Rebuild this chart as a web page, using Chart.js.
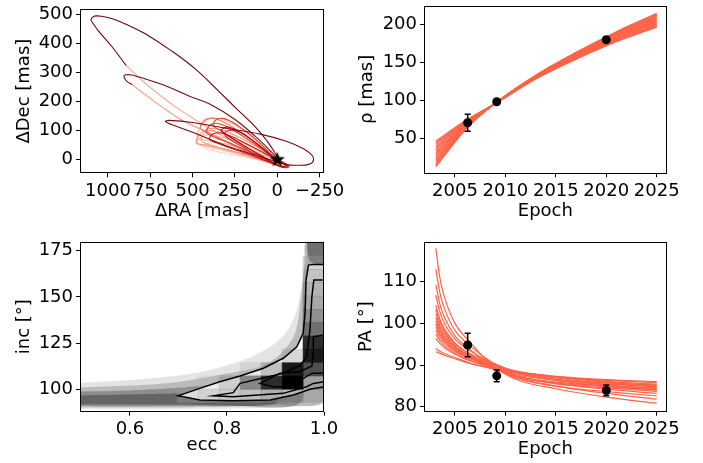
<!DOCTYPE html>
<html>
<head>
<meta charset="utf-8">
<script src="https://cdn.jsdelivr.net/npm/chart.js@4.4.1/dist/chart.umd.min.js"></script>
<style>
  body { margin: 0; background: #fff; width: 703px; height: 463px; overflow: hidden; }
  canvas { position: absolute; }
</style>
</head>
<body>
<canvas id="orbitChart" width="345" height="230" style="left:0;top:0"></canvas>
<canvas id="rhoChart" width="363" height="230" style="left:340px;top:0"></canvas>
<canvas id="eccIncChart" width="345" height="233" style="left:0;top:230px"></canvas>
<canvas id="paChart" width="363" height="233" style="left:340px;top:230px"></canvas>
<script>
// ---- top left: projected orbit tracks, [dRA, dDec] in mas ----
const orbitA_dark = [[893,324],[976,388],[1054,441],[1090,470],[1100,480],[1090,490],[1071,494],[1040,493],[974,484],[880,462],[775,431],[625,374],[476,308],[339,231],[238,174],[131,114],[60,64],[15,25],[-5,5]];
const orbitA_light = [[893,324],[756,251],[607,184],[458,128],[280,68],[131,28],[30,8],[-5,5]];
const orbitB_dark = [[857,258],[887,268],[903,281],[905,288],[893,292],[860,291],[815,284],[679,258],[518,218],[399,191],[250,138],[131,81],[42,31],[0,4]];
const orbitB_light = [[857,258],[774,221],[577,141],[399,91],[220,38],[71,11],[0,1]];
const orbitC = [[304,108],[101,88],[-48,64],[-155,38],[-200,18],[-214,5],[-208,-9],[-180,-17],[-137,-19],[-48,-16],[101,11],[304,48],[500,94],[625,121],[661,131],[640,135],[500,128],[304,108]];
const orbitP1 = [[250,120],[160,85],[80,45],[20,10],[-30,-10],[-50,-20],[-20,-22],[40,-5],[150,25],[280,50],[400,65],[460,72],[475,80],[455,110],[420,135],[380,143],[330,140],[250,120]];
const orbitP2 = [[300,98],[200,70],[100,38],[30,10],[-40,-12],[-60,-22],[-30,-24],[40,-10],[150,12],[300,35],[420,50],[470,55],[480,60],[465,82],[430,100],[380,108],[300,98]];
const orbitP3 = [[280,118],[180,80],[90,40],[20,8],[-45,-12],[-70,-22],[-50,-27],[10,-15],[120,10],[260,50],[380,85],[440,102],[455,110],[440,130],[405,142],[360,140],[280,118]];
const orbitP4 = [[300,115],[200,80],[100,40],[30,10],[-35,-12],[-60,-20],[-40,-25],[20,-12],[120,15],[250,50],[360,75],[410,88],[420,95],[400,118],[360,125],[300,115]];
const orbitP5 = [[330,78],[230,55],[130,28],[40,5],[-20,-10],[-35,-18],[-10,-20],[60,-8],[180,12],[320,32],[430,45],[470,55],[455,75],[410,85],[330,78]];
const orbitP6 = [[260,128],[180,95],[100,55],[30,15],[-30,-10],[-55,-20],[-40,-25],[10,-14],[100,15],[220,55],[320,95],[370,112],[380,120],[360,138],[320,142],[260,128]];
const orbitP7 = [[250,105],[180,80],[100,45],[30,12],[-30,-10],[-50,-20],[-30,-24],[20,-12],[100,15],[200,50],[290,82],[330,100],[300,112],[250,105]];
const orbitP8 = [[250,75],[150,45],[60,18],[0,0],[-50,-15],[-65,-25],[-40,-27],[20,-15],[120,8],[250,35],[360,58],[400,70],[380,88],[330,92],[250,75]];
const orbitP9 = [[250,45],[150,25],[60,8],[0,-5],[-20,-12],[0,-15],[80,-5],[200,10],[330,25],[410,35],[430,40],[410,55],[350,60],[250,45]];
const orbitP10 = [[350,95],[250,72],[150,42],[60,15],[0,-2],[-45,-15],[-55,-24],[-25,-25],[40,-12],[150,8],[280,30],[400,52],[445,62],[450,72],[430,92],[395,100],[350,95]];
const orbitP11 = [[200,90],[130,60],[60,28],[10,5],[-35,-12],[-50,-22],[-25,-24],[30,-10],[110,12],[200,42],[280,70],[310,85],[290,100],[250,100],[200,90]];
const hostStar = [[0, 0]];
const raTicks = [1000, 750, 500, 250, 0, -250];
const decTicks = [0, 100, 200, 300, 400, 500];

// ---- right column: separation and position angle vs epoch ----
const epochTicks = [2005, 2010, 2015, 2020, 2025];
const rhoTicks = [50, 100, 150, 200];
const paTicks = [80, 90, 100, 110];
const rhoEpochs = [2003.1, 2006.2, 2009.2, 2013, 2017, 2021, 2025];
const rhoLines = [
  [13.0, 64.0, 98.5, 133.0, 163.0, 190.0, 214.0],
  [15.4, 64.8, 98.4, 132.7, 162.4, 189.1, 212.7],
  [17.4, 65.4, 98.4, 132.4, 161.8, 188.3, 211.7],
  [19.8, 66.2, 98.3, 132.0, 161.2, 187.4, 210.4],
  [22.2, 67.0, 98.2, 131.7, 160.6, 186.5, 209.1],
  [24.2, 67.6, 98.2, 131.4, 160.0, 185.7, 208.1],
  [26.6, 68.4, 98.1, 131.0, 159.4, 184.8, 206.8],
  [29.0, 69.2, 98.0, 130.7, 158.8, 183.9, 205.5],
  [31.0, 69.8, 98.0, 130.4, 158.2, 183.1, 204.5],
  [33.4, 70.6, 97.9, 130.0, 157.6, 182.2, 203.2],
  [35.8, 71.4, 97.8, 129.7, 157.0, 181.3, 201.9],
  [37.8, 72.0, 97.8, 129.4, 156.4, 180.5, 200.9],
  [40.2, 72.8, 97.7, 129.0, 155.8, 179.6, 199.6],
  [42.6, 73.6, 97.6, 128.7, 155.2, 178.7, 198.3],
  [44.6, 74.2, 97.6, 128.4, 154.6, 177.9, 197.3],
  [47.0, 75.0, 97.5, 128.0, 154.0, 177.0, 196.0]
];
const paEpochs = [2003.1, 2003.5, 2004, 2005, 2006.5, 2008.5, 2011, 2015, 2020, 2025];
const paLines = [
  [93.2, 92.8, 92.3, 91.5, 90.3, 89.3, 88.3, 87.3, 86.5, 86.0],
  [93.9, 93.3, 92.7, 91.8, 90.5, 89.3, 88.1, 87.1, 86.3, 85.8],
  [96.4, 95.2, 94.1, 92.6, 91.0, 89.8, 88.4, 87.2, 86.1, 85.4],
  [97.4, 95.9, 94.6, 92.9, 91.2, 89.2, 87.6, 86.4, 85.7, 85.1],
  [98.4, 96.6, 95.2, 93.3, 91.6, 90.2, 88.6, 87.1, 85.9, 85.2],
  [99.2, 97.2, 95.6, 93.5, 91.5, 89.6, 87.9, 86.5, 85.4, 84.8],
  [99.9, 97.7, 96.0, 93.8, 91.9, 90.4, 88.5, 86.9, 85.6, 84.9],
  [100.6, 98.3, 96.4, 94.1, 91.9, 89.5, 87.4, 85.9, 85.0, 84.4],
  [101.4, 98.8, 96.8, 94.3, 92.3, 90.6, 88.4, 86.6, 85.2, 84.5],
  [102.4, 99.5, 97.4, 94.6, 92.2, 89.7, 87.3, 85.7, 84.8, 84.1],
  [103.4, 100.3, 97.9, 95.0, 92.7, 90.8, 88.3, 86.3, 84.9, 84.0],
  [104.4, 101.0, 98.5, 95.3, 92.6, 89.9, 87.2, 85.5, 84.5, 83.7],
  [106.8, 102.8, 99.8, 96.2, 93.4, 90.6, 87.6, 85.6, 84.2, 83.2],
  [109.3, 104.6, 101.2, 97.0, 93.7, 90.2, 86.9, 84.9, 83.6, 82.6],
  [113.0, 107.4, 103.3, 98.3, 94.6, 90.9, 87.2, 85.0, 83.2, 81.8],
  [118.0, 111.0, 106.0, 100.0, 95.5, 90.3, 86.6, 84.3, 82.3, 80.8]
];
const obsEpochs = [2006.26, 2009.14, 2020.0];
const rhoObs = [70.8, 98.3, 179.5];
const rhoErr = [11.0, 1.2, 3.0];
const paObs = [94.8, 87.4, 83.9];
const paErr = [2.8, 1.4, 1.3];

// ---- bottom left: ecc vs inc posterior ----
const eccTicks = [0.6, 0.8, 1.0];
const incTicks = [100, 125, 150, 175];
const cloudEdge = [[0.497,103.5],[0.6,105],[0.7,107.5],[0.75,109.5],[0.8,113],[0.85,117.5],[0.9,125],[0.93,134],[0.945,144],[0.955,158],[0.961,170],[0.964,180],[1.0,180],[1.0,93.5],[0.95,91],[0.85,89.8],[0.7,89.4],[0.6,89.2],[0.497,89.4]];
const cloudOuter = [[0.497,101],[0.6,102],[0.7,104],[0.8,108.5],[0.87,112.5],[0.91,119],[0.94,130],[0.952,148],[0.96,168],[0.963,180],[1.0,180],[1.0,94.5],[0.9,91.5],[0.7,90.2],[0.497,90.2]];
const cloudMid = [[0.497,98.8],[0.6,99.4],[0.7,100.8],[0.8,104],[0.9,110],[0.95,116],[0.95,92.5],[0.8,91.2],[0.6,90.8],[0.497,91]];
const cloudCore = [[0.497,96.8],[0.6,97.2],[0.7,97.8],[0.8,99.5],[0.9,102],[0.9,92.2],[0.7,91.8],[0.497,91.9]];
const cloudTop = [[0.965,180],[0.967,172],[0.975,168.5],[1.0,168.5],[1.0,180]];
const contourOuter = [[1.0,167.6],[0.978,167.6],[0.968,167.2],[0.963,159.1],[0.961,141.1],[0.957,130.3],[0.944,123.0],[0.916,116.8],[0.875,111.4],[0.827,107.2],[0.785,104.1],[0.744,100.5],[0.699,96.5],[0.744,94.2],[0.812,93.8],[0.889,94.2],[0.937,96.9],[0.971,100.0],[1.0,101.4]];
const contourInner = [[1.0,159.1],[0.979,159.1],[0.975,150.1],[0.971,132.1],[0.964,117.6],[0.951,113.1],[0.916,108.7],[0.827,103.2],[0.813,98.2],[0.772,96.5],[0.813,96.0],[0.916,97.8],[0.964,101.4],[0.978,103.2],[1.0,104.1]];
const contourCore = [[1.0,129.4],[0.978,128.4],[0.978,119.5],[0.975,112.6],[0.950,109.5],[0.909,108.7],[0.868,103.2],[0.895,101.4],[0.930,101.4],[0.975,108.7],[1.0,108.7]];
// histogram cells: [ecc centre, inc centre, density 0..1]
const histCells = [
  [0.9784,96.5,0.44],[0.9784,103.7,0.61],[0.9784,110.9,0.83],[0.9784,118.1,0.95],[0.9784,125.3,0.91],
  [0.9784,132.5,0.75],[0.9784,139.7,0.66],[0.9784,146.9,0.59],[0.9784,154.1,0.54],[0.9784,161.3,0.49],[0.9784,168.5,0.42],
  [0.9352,96.5,0.54],[0.9352,103.7,1.0],[0.9352,110.9,0.95],[0.9352,118.1,0.40],
  [0.8919,96.5,0.56],[0.8919,103.7,0.91],[0.8919,110.9,0.50],
  [0.8487,96.5,0.50],[0.8487,103.7,0.69],[0.8487,110.9,0.31],
  [0.8055,96.5,0.46],[0.8055,103.7,0.44],
  [0.7622,96.5,0.42],[0.7622,103.7,0.28],
  [0.7190,96.5,0.37]
];
const incBinHalf = 3.6;

Chart.defaults.font.family = "'DejaVu Sans', sans-serif";
Chart.defaults.font.size = 18;
Chart.defaults.color = "#000";

const fmtInt = v => (v < 0 ? "\u2212" : "") + Math.abs(v);
const fmtEcc = v => v.toFixed(1);
const fitColor = "#ff6347";

const spines = {
  id: "spines",
  afterDatasetsDraw(chart) {
    const a = chart.chartArea, ctx = chart.ctx;
    ctx.save();
    ctx.strokeStyle = "#000";
    ctx.lineWidth = 1;
    ctx.strokeRect(Math.round(a.left) + 0.5, Math.round(a.top) + 0.5,
                   Math.round(a.right - a.left) - 1, Math.round(a.bottom - a.top) - 1);
    ctx.restore();
  }
};

function makeAxis(o) {
  return {
    type: "linear",
    min: o.min, max: o.max, reverse: !!o.reverse, offset: false,
    afterBuildTicks: s => { s.ticks = o.ticks.map(v => ({ value: v })); },
    afterFit: s => {
      if (s.isHorizontal()) s.height = o.size; else s.width = o.size;
      s.paddingTop = s.paddingBottom = s.paddingLeft = s.paddingRight = 0;
    },
    grid: { display: true, offset: false, drawOnChartArea: false, drawTicks: true, tickLength: 4, tickWidth: 1, tickColor: "#000" },
    border: { display: false },
    ticks: { autoSkip: false, maxRotation: 0, minRotation: 0, padding: 3, color: "#000", callback: o.fmt || fmtInt },
    title: { display: true, text: o.title, color: "#000", padding: o.titlePad }
  };
}

function options(padding, x, y) {
  return {
    responsive: false, animation: false, events: [],
    layout: { padding },
    plugins: { legend: { display: false }, tooltip: { enabled: false } },
    scales: { x, y }
  };
}

// earliest entry is painted first, last one ends on top
function layer(list) {
  list.forEach((d, i) => { d.order = list.length - i; });
  return list;
}

const xy = pts => pts.map(p => ({ x: p[0], y: p[1] }));

function track(pts, color) {
  return { data: xy(pts), borderColor: color, borderWidth: 1.1, pointRadius: 0, tension: 0.4, fill: false };
}

function starMarker(r) {
  const c = document.createElement("canvas");
  c.width = c.height = 2 * r + 2;
  const g = c.getContext("2d");
  g.fillStyle = "#000";
  g.beginPath();
  for (let k = 0; k < 10; k++) {
    const rad = k % 2 ? r * 0.42 : r;
    const a = -Math.PI / 2 + k * Math.PI / 5;
    g.lineTo(r + 1 + rad * Math.cos(a), r + 1 + rad * Math.sin(a));
  }
  g.closePath();
  g.fill();
  return c;
}

// ---------- top left ----------
new Chart(document.getElementById("orbitChart"), {
  type: "line",
  data: { datasets: layer([
    track(orbitA_light, "#f9a083"),
    track(orbitB_light, "#f8937a"),
    track(orbitP9, "#fdd5c4"),
    track(orbitP5, "#fcc2aa"),
    track(orbitP1, "#fcb095"),
    track(orbitP10, "#fc9f86"),
    track(orbitP2, "#fb8e70"),
    track(orbitP3, "#f7785b"),
    track(orbitP6, "#e0402e"),
    track(orbitP4, "#ef3b2c"),
    track(orbitP11, "#d92523"),
    track(orbitP8, "#cb181d"),
    track(orbitP7, "#a50f15"),
    track(orbitC, "#7a0a14"),
    track(orbitB_dark, "#7a0a14"),
    track(orbitA_dark, "#6a0512"),
    { data: xy(hostStar), showLine: false, pointStyle: starMarker(8), pointRadius: 8 }
  ]) },
  options: options({ left: 0, top: 4, right: 21, bottom: 0 },
    makeAxis({ min: -276, max: 1165, reverse: true, ticks: raTicks, size: 56.7,
               title: "\u0394RA [mas]", titlePad: { top: 0, bottom: 8 } }),
    makeAxis({ min: -46.7, max: 517.7, ticks: decTicks, size: 80,
               title: "\u0394Dec [mas]", titlePad: { top: 13.8, bottom: 0 } })),
  plugins: [spines]
});

function fitLines(epochs, lines) {
  return lines.map(v => ({
    data: epochs.map((t, i) => ({ x: t, y: v[i] })),
    borderColor: fitColor, borderWidth: 1.2, pointRadius: 0,
    cubicInterpolationMode: "monotone", fill: false
  }));
}

function errorBars(vals, errs) {
  return obsEpochs.map((t, i) => ({
    data: [{ x: t, y: vals[i] - errs[i] }, { x: t, y: vals[i] + errs[i] }],
    borderColor: "#000", borderWidth: 1.5,
    pointStyle: "line", pointRadius: 3, pointBorderWidth: 1.5, pointBorderColor: "#000"
  }));
}

function obsPoints(vals) {
  return {
    data: obsEpochs.map((t, i) => ({ x: t, y: vals[i] })),
    showLine: false, pointRadius: 4.5, pointBackgroundColor: "#000", pointBorderWidth: 0
  };
}

// ---------- top right ----------
new Chart(document.getElementById("rhoChart"), {
  type: "line",
  data: { datasets: layer([...fitLines(rhoEpochs, rhoLines), ...errorBars(rhoObs, rhoErr), obsPoints(rhoObs)]) },
  options: options({ left: 0, top: 4, right: 36.3, bottom: 0 },
    makeAxis({ min: 2001.93, max: 2025.99, ticks: epochTicks, size: 56.7,
               title: "Epoch", titlePad: { top: 0, bottom: 8 } }),
    makeAxis({ min: 4.6, max: 224.3, ticks: rhoTicks, size: 84,
               title: "\u03c1 [mas]", titlePad: { top: 16.8, bottom: 0 } })),
  plugins: [spines]
});

// ---------- bottom right ----------
new Chart(document.getElementById("paChart"), {
  type: "line",
  data: { datasets: layer([...fitLines(paEpochs, paLines), ...errorBars(paObs, paErr), obsPoints(paObs)]) },
  options: options({ left: 0, top: 11.7, right: 36.3, bottom: 0 },
    makeAxis({ min: 2001.93, max: 2025.99, ticks: epochTicks, size: 51.3,
               title: "Epoch", titlePad: { top: 0, bottom: 3 } }),
    makeAxis({ min: 78.8, max: 119.6, ticks: paTicks, size: 84,
               title: "PA [\u00b0]", titlePad: { top: 15.8, bottom: 0 } })),
  plugins: [spines]
});

// ---------- bottom left ----------
function area(pts, color) {
  return { data: xy(pts), borderColor: "transparent", backgroundColor: color, fill: "shape",
           pointRadius: 0, tension: 0.3, clip: 0 };
}
function contour(pts) {
  return { data: xy(pts), borderColor: "#000", borderWidth: 1.5, pointRadius: 0, tension: 0, fill: false, clip: 0 };
}
const cellShade = d => {
  const g = Math.round(255 * (1 - d));
  return "rgba(" + g + "," + g + "," + g + "," + d + ")";
};

new Chart(document.getElementById("eccIncChart"), {
  type: "line",
  data: { datasets: layer([
    area(cloudEdge, "rgba(90,90,90,0.16)"),
    area(cloudOuter, "rgba(70,70,70,0.26)"),
    area(cloudMid, "rgba(60,60,60,0.36)"),
    area(cloudCore, "rgba(50,50,50,0.45)"),
    area(cloudTop, "rgba(50,50,50,0.55)"),
    area(contourOuter, "#fff"),
    {
      type: "bar",
      data: histCells.map(c => ({ x: c[0], y: [c[1] - incBinHalf, c[1] + incBinHalf] })),
      backgroundColor: histCells.map(c => cellShade(c[2])),
      borderWidth: 0, barPercentage: 1, categoryPercentage: 1, clip: 0
    },
    contour(contourOuter),
    contour(contourInner),
    contour(contourCore)
  ]) },
  options: options({ left: 0, top: 11.7, right: 21, bottom: 0 },
    makeAxis({ min: 0.497, max: 1.0, ticks: eccTicks, fmt: fmtEcc, size: 51.3,
               title: "ecc", titlePad: { top: 0, bottom: 7 } }),
    makeAxis({ min: 87.88, max: 179.87, ticks: incTicks, size: 80,
               title: "inc [\u00b0]", titlePad: { top: 13.8, bottom: 0 } })),
  plugins: [spines]
});
</script>
</body>
</html>
